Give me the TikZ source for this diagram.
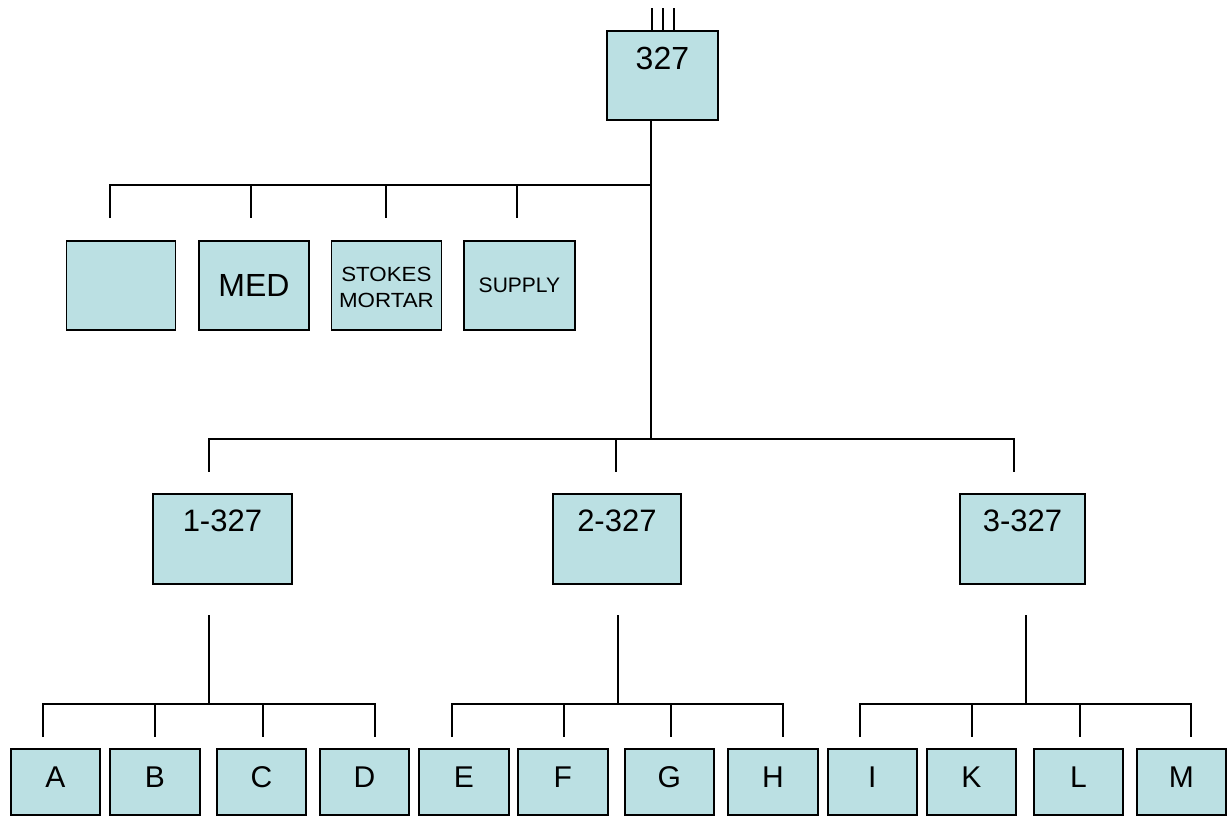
\documentclass[tikz,border=0pt]{standalone}
\usepackage{fontspec}
\setmainfont{Liberation Sans}
\usetikzlibrary{calc}
\definecolor{boxfill}{HTML}{BBE0E3}
\begin{document}
\begin{tikzpicture}[x=1pt,y=-1pt,
  box/.style={draw=black, line width=1.8pt, fill=boxfill, inner sep=0pt,
    anchor=north west, rectangle},
  conn/.style={line width=1.8pt, draw=black, line join=miter},
  tick/.style={line width=1.5pt, draw=black}]
\useasboundingbox (0,0) rectangle (1229,817);

% ---- top box
\node[box, minimum width=111pt, text height=39pt, text depth=50pt,
  font=\fontsize{32}{38}\selectfont] (top) at (606,30) {327};
\foreach \dx in {-10.5,0.5,11.5}
  \draw[tick] ($(top.north)+(\dx,0)$) -- ++(0,-22.5);

% ---- second row (staff)
\node[box, minimum width=109pt, text height=56pt, text depth=33pt] (hq) at (65.5,240) {};
\node[box, minimum width=110pt, text height=56pt, text depth=33pt,
  font=\fontsize{32}{38}\selectfont] (med) at (198,240) {MED};
\node[box, minimum width=110pt, text height=66.7pt, text depth=22.3pt, align=center,
  font=\fontsize{20.5}{26}\selectfont] (stokes) at (330.5,240)
  {\scalebox{1.09}[1]{STOKES}\\\scalebox{1.09}[1]{MORTAR}};
\node[box, minimum width=111pt, text height=51.7pt, text depth=37.3pt,
  font=\fontsize{21}{25}\selectfont] (supply) at (463,240) {SUPPLY};

% ---- companies
\tikzset{coy/.style={box, text height=38pt, text depth=52pt, font=\fontsize{31}{37}\selectfont}}
\node[coy, minimum width=139pt] (c1) at (152,493) {1-327};
\node[coy, minimum width=128pt] (c2) at (552,493) {2-327};
\node[coy, minimum width=125pt] (c3) at (959,493) {3-327};

% ---- platoons
\tikzset{plt/.style={box, text height=38.7pt, text depth=27.3pt, font=\fontsize{30}{36}\selectfont}}
\foreach \n/\x/\w in {A/10/89, B/109/90, C/216/89, D/319/89, E/418/90, F/517/90,
  G/624/89, H/727/90, I/827/89, K/926/89, L/1033/89, M/1136/89}
  \node[plt, minimum width=\w pt] (p\n) at (\x,748) {\n};

% ---- connector coordinates
\coordinate (j1) at (651,185);
\coordinate (j2) at (651,439);
\coordinate (s1t) at (110,185);   \coordinate (s1b) at (110,218);
\coordinate (s2t) at (250.7,185); \coordinate (s2b) at (250.7,218);
\coordinate (s3t) at (385.7,185); \coordinate (s3b) at (385.7,218);
\coordinate (s4t) at (517,185);   \coordinate (s4b) at (517,218);
\coordinate (k1t) at (209,439);   \coordinate (k1b) at (209,471.7);
\coordinate (k2t) at (616,439);   \coordinate (k2b) at (616,471.7);
\coordinate (k3t) at (1014,439);  \coordinate (k3b) at (1014,471.7);

% trunk and staff line
\draw[conn] (top.south -| j1) -- (j2);
\draw[conn] (s1b) -- (s1t) -- (j1);
\draw[conn] (s2t) -- (s2b);
\draw[conn] (s3t) -- (s3b);
\draw[conn] (s4t) -- (s4b);

% company line
\draw[conn] (k1b) -- (k1t) -- (k3t) -- (k3b);
\draw[conn] (k2t) -- (k2b);

% platoon groups
\foreach \g/\v/\a/\b/\c/\d in {1/209/43/155/263/375, 2/618/452/564/671/783, 3/1026/860/972/1080/1191}{
  \coordinate (g\g top) at (\v,615);
  \coordinate (g\g mid) at (\v,704);
  \coordinate (g\g a) at (\a,737); \coordinate (g\g A) at (\a,704);
  \coordinate (g\g b) at (\b,737); \coordinate (g\g B) at (\b,704);
  \coordinate (g\g c) at (\c,737); \coordinate (g\g C) at (\c,704);
  \coordinate (g\g d) at (\d,737); \coordinate (g\g D) at (\d,704);
  \draw[conn] (g\g top) -- (g\g mid);
  \draw[conn] (g\g a) -- (g\g A) -- (g\g D) -- (g\g d);
  \draw[conn] (g\g B) -- (g\g b);
  \draw[conn] (g\g C) -- (g\g c);
}
\end{tikzpicture}
\end{document}
